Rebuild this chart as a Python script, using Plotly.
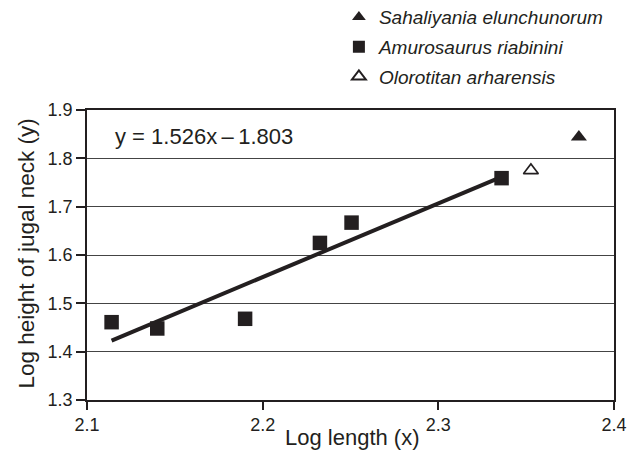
import plotly.graph_objects as go

# Data
amuro_x = [2.114, 2.140, 2.190, 2.2326, 2.2506, 2.336]
amuro_y = [1.461, 1.448, 1.468, 1.625, 1.667, 1.759]
sahal_x = [2.380]
sahal_y = [1.844]
oloro_x = [2.3527]
oloro_y = [1.775]
slope = 1.526
intercept = -1.803
fit_x = [min(amuro_x), max(amuro_x)]
fit_y = [slope * v + intercept for v in fit_x]

x_ticks = [2.1, 2.2, 2.3, 2.4]
y_ticks = [1.3, 1.4, 1.5, 1.6, 1.7, 1.8, 1.9]

FONT = "Liberation Sans, Arial, Helvetica, sans-serif"
INK = "#231f20"

fig = go.Figure()
fig.add_trace(go.Scatter(x=fit_x, y=fit_y, mode="lines",
                         line=dict(color=INK, width=4), showlegend=False,
                         hoverinfo="skip"))
fig.add_trace(go.Scatter(x=sahal_x, y=sahal_y, mode="markers",
                         name="Sahaliyania elunchunorum", legendgroup="a",
                         marker=dict(symbol="triangle-up", size=14, color=INK,
                                     line=dict(width=0))))
fig.add_trace(go.Scatter(x=amuro_x, y=amuro_y, mode="markers",
                         name="Amurosaurus riabinini", legendgroup="b",
                         marker=dict(symbol="square", size=14.5, color=INK,
                                     line=dict(width=0))))
fig.add_trace(go.Scatter(x=oloro_x, y=oloro_y, mode="markers",
                         name="Olorotitan arharensis", legendgroup="c",
                         marker=dict(symbol="triangle-up-open", size=13, color=INK,
                                     line=dict(width=1.6, color=INK))))

fig.add_annotation(x=0.05, y=0.91, xref="paper", yref="paper",
                   text=f"y = {slope}x\u2009\u2013\u20091.803", showarrow=False,
                   xanchor="left", yanchor="middle",
                   font=dict(family=FONT, size=22, color=INK))
fig.add_annotation(x=0.503, y=-0.128, xref="paper", yref="paper",
                   text="Log length (x)", showarrow=False,
                   xanchor="center", yanchor="middle",
                   font=dict(family=FONT, size=22, color=INK))
fig.add_annotation(x=-0.114, y=0.505, xref="paper", yref="paper",
                   text="Log height of jugal neck (y)", showarrow=False,
                   textangle=-90, xanchor="center", yanchor="middle",
                   font=dict(family=FONT, size=22.5, color=INK))

# the page body adds an 8px offset, so the margins are trimmed by 8px on top/left
fig.update_layout(
    width=643, height=450,
    margin=dict(l=79, r=37, t=102, b=58, autoexpand=False),
    paper_bgcolor="white", plot_bgcolor="white",
    font=dict(family=FONT, size=18, color=INK),
    legend=dict(x=0.478, y=1.3857, xanchor="left", yanchor="top",
                font=dict(family=FONT, size=19, color=INK, style="italic"),
                bgcolor="rgba(0,0,0,0)", traceorder="grouped", tracegroupgap=2,
                itemsizing="constant"),
    xaxis=dict(range=[2.1, 2.4], tickvals=x_ticks, ticktext=[str(v) for v in x_ticks],
               showgrid=False, zeroline=False, showline=True, linecolor=INK,
               linewidth=1.5, mirror=True, ticks="outside", ticklen=8,
               tickcolor=INK, tickwidth=1.5,
               tickfont=dict(family=FONT, size=18, color=INK)),
    yaxis=dict(range=[1.3, 1.9], tickvals=y_ticks, ticktext=[f"{v:.1f}" for v in y_ticks],
               showgrid=True, gridcolor="#444444", gridwidth=1.3,
               zeroline=False, showline=True, linecolor=INK,
               linewidth=1.5, mirror=True, ticks="outside", ticklen=9,
               tickcolor=INK, tickwidth=1.5,
               tickfont=dict(family=FONT, size=18, color=INK)),
)

fig.write_html("out.html")
